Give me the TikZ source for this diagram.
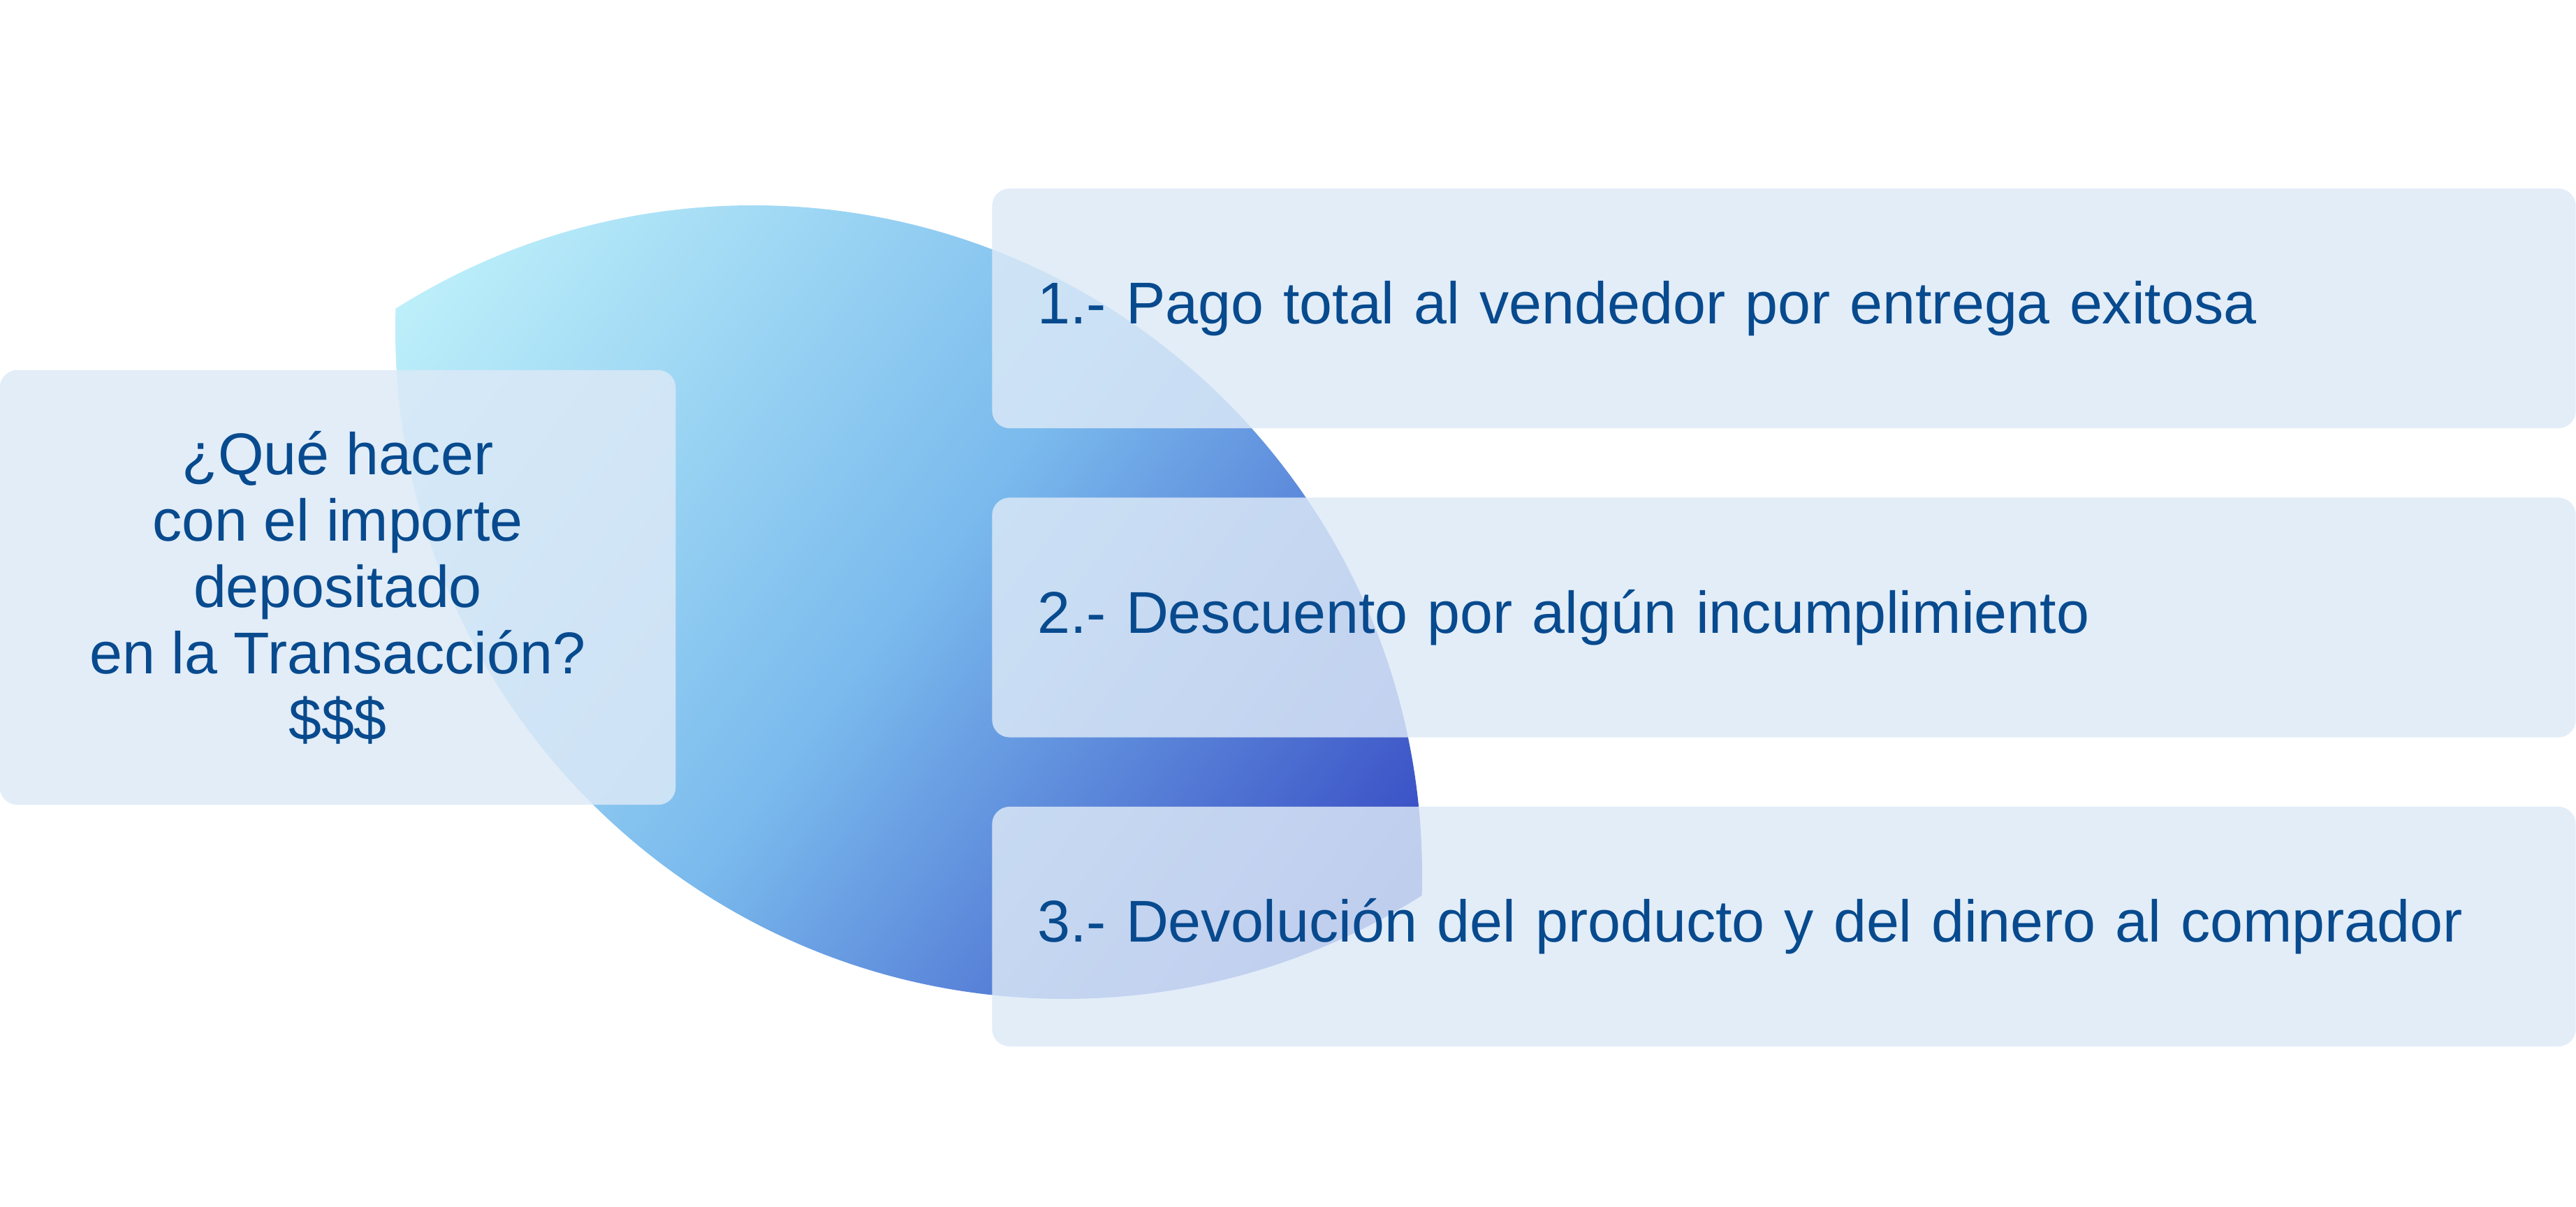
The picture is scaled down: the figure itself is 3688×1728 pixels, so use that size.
\documentclass[tikz,border=0pt]{standalone}
\usepackage{fontspec}
\setmainfont{Liberation Sans}
\usepackage{tikz}
\definecolor{textBlue}{RGB}{8,74,142}
\definecolor{panelColor}{RGB}{220,233,247}
\definecolor{lensLight}{RGB}{196,245,251}
\definecolor{lensMid}{RGB}{122,186,237}
\definecolor{lensDark}{RGB}{46,60,190}
\tikzstyle{sheet} = [x = 0.01cm, y = -0.01cm]
\tikzstyle{panelStyle} = [fill=panelColor, fill opacity=0.83, text opacity=1, text=textBlue, rounded corners = .25cm, inner sep=0pt]
\tikzstyle{questionPanel} = [panelStyle, minimum width=9.67cm, minimum height=6.22cm, align=center, font=\fontsize{24}{27}\selectfont]
\tikzstyle{answerPanel} = [panelStyle, minimum width=22.66cm, minimum height=3.43cm, text width=21.36cm, inner xsep=.65cm, align=left, font=\fontsize{24}{29}\selectfont]
\tikzstyle{lensShade} = [left color=lensLight, right color=lensDark, middle color=lensMid]
\newcommand{\answerBox}[3]{\node [answerPanel] (#1) at (2554, #2) {#3};}
\begin{document}
\begin{tikzpicture}[sheet]
  \useasboundingbox (0,0) rectangle (3688,1728);
  \begin{scope}
    \clip (1078,1252) circle [radius=958];
    \clip (1524,472) circle [radius=958];
    \begin{scope}[transform canvas={rotate around={-37:(1301,862)}}]
      \shade [lensShade] (374,-138) rectangle (2228,1862);
    \end{scope}
  \end{scope}

  \node [questionPanel] (question) at (483.5, 841) {¿Qué hacer\\con el importe\\depositado\\en la Transacción?\\\$\$\$};
  \answerBox{paymentFull}{441.5}{1.- Pago total al vendedor por entrega exitosa}
  \answerBox{discount}{884}{2.- Descuento por algún incumplimiento}
  \answerBox{refund}{1326.5}{3.- Devolución del producto y del dinero al comprador}
\end{tikzpicture}
\end{document}
